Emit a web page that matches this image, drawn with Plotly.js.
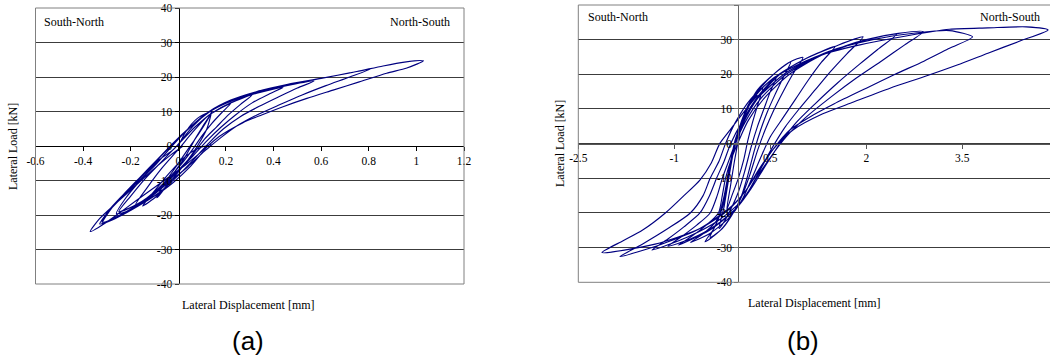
<!DOCTYPE html>
<html>
<head>
<meta charset="utf-8">
<script src="https://cdn.plot.ly/plotly-3.0.1.min.js"></script>
<style>
  html, body { margin: 0; padding: 0; background: #fff; }
  #chart { width: 1050px; height: 358px; }
</style>
</head>
<body>
<div id="chart"></div>
<script>
// ---------- Data ----------
// Panel (a): lateral displacement [mm] and lateral load [kN], in test order
const dispA = [
  0,
  0.03, 0.08, 0.14,
  0.11, 0.07, 0.03, -0.02, -0.06, -0.09,
  -0.06, -0.01, 0.04, 0.09, 0.13, 0.14,
  0.12, 0.08, 0.03, -0.03, -0.09, -0.15,
  -0.10, -0.04, 0.03, 0.09, 0.14,
  0.10, 0.05, -0.02, -0.10, -0.18,
  -0.13, -0.07, 0, 0.06, 0.12, 0.18, 0.22,
  0.18, 0.14, 0.10, 0.06, 0.01, -0.05, -0.12, -0.19, -0.25,
  -0.20, -0.14, -0.07, 0, 0.07, 0.14, 0.22, 0.31,
  0.26, 0.21, 0.16, 0.11, 0.06, 0, -0.07, -0.14, -0.20, -0.26,
  -0.22, -0.16, -0.09, -0.02, 0.05, 0.13, 0.22, 0.33, 0.44,
  0.38, 0.31, 0.24, 0.18, 0.12, 0.06, -0.01, -0.09, -0.17, -0.26, -0.32,
  -0.28, -0.22, -0.15, -0.08, -0.01, 0.06, 0.14, 0.24, 0.36, 0.47, 0.57,
  0.50, 0.42, 0.34, 0.26, 0.19, 0.13, 0.07, 0, -0.08, -0.17, -0.25, -0.32,
  -0.29, -0.23, -0.16, -0.09, -0.02, 0.05, 0.13, 0.22, 0.33, 0.46, 0.60, 0.72, 0.81,
  0.72, 0.62, 0.52, 0.42, 0.33, 0.25, 0.18, 0.11, 0.04, -0.04, -0.12, -0.21, -0.28, -0.33,
  -0.30, -0.22, -0.15, -0.08, -0.02, 0.06, 0.13, 0.22, 0.33, 0.46, 0.60, 0.75, 0.86, 0.95, 1.03,
  0.96, 0.875, 0.76, 0.65, 0.54, 0.44, 0.35, 0.27, 0.17, 0.10, 0.03, -0.05, -0.13, -0.22, -0.30, -0.37,
  -0.33, -0.26, -0.18, -0.10, -0.03, 0.02
];
const loadA = [
  0,
  4, 8, 10,
  6.5, 2, -3, -8, -12.5, -15,
  -11, -6, -1, 4, 8.5, 10,
  5, 0, -5, -10, -14.5, -17.4,
  -13, -8, -3, -0.5, 0.3,
  -2, -6, -10.5, -14.5, -17.1,
  -12, -6.5, -1, 4, 8.5, 11, 12.3,
  9.5, 6.5, 3, -1, -5.5, -10, -14.5, -17.5, -19,
  -14.5, -9.5, -4.5, 0.5, 5.5, 9.5, 12.5, 14.8,
  12, 9, 5.5, 2, -2.5, -7, -11.5, -15.5, -18.5, -19.6,
  -15, -10, -5, 0.5, 5.5, 10, 13, 15.3, 17,
  15, 12.5, 9, 5.5, 1.5, -3, -8, -13, -17, -20.5, -22.4,
  -18, -13.5, -8.5, -3.5, 1.5, 6, 10.3, 13.5, 16, 17.7, 18.8,
  16.8, 14.2, 11.5, 8.5, 5, 1, -3.5, -8.5, -13.5, -17.5, -20.5, -22,
  -18.5, -14, -9, -4, 1, 5.5, 10, 13.2, 15.8, 17.8, 19.6, 21.2, 22.4,
  20, 17.5, 14.8, 11.8, 9, 6, 2.5, -1.5, -6, -10.5, -15, -19, -21.5, -22.6,
  -19.5, -13.7, -9, -4, -1, 5.6, 10, 13.3, 15.8, 17.9, 19.6, 21.6, 23.2, 24.3, 24.7,
  22.6, 21.1, 18.6, 16.2, 13.8, 11.4, 9, 6.7, 2.7, -1.5, -5.5, -9.5, -13.5, -18, -22, -24.8,
  -21, -16.5, -11.5, -6.5, -2.5, 0
];

// Panel (b): lateral displacement [mm] and lateral load [kN], in test order
const dispB = [
  0,
  0.05, 0.15, 0.28, 0.38,
  0.30, 0.22, 0.15, 0.08, 0, -0.10, -0.18,
  -0.12, -0.05, 0.05, 0.20, 0.40, 0.60,
  0.50, 0.40, 0.30, 0.20, 0.10, 0, -0.12, -0.22, -0.30,
  -0.22, -0.14, -0.05, 0.08, 0.30, 0.55, 0.82,
  0.70, 0.57, 0.45, 0.35, 0.25, 0.15, 0.05, -0.08, -0.25, -0.44,
  -0.32, -0.22, -0.14, -0.05, 0.10, 0.30, 0.55, 0.80, 1.01,
  0.85, 0.70, 0.55, 0.42, 0.30, 0.18, 0.06, -0.08, -0.28, -0.52,
  -0.38, -0.26, -0.18, -0.11, -0.03, 0.10, 0.30, 0.60, 1.00, 1.25, 1.51,
  1.30, 1.10, 0.90, 0.70, 0.50, 0.35, 0.20, 0.05, -0.15, -0.45, -0.75,
  -0.55, -0.35, -0.24, -0.18, -0.12, -0.04, 0.08, 0.30, 0.65, 1.05, 1.50, 1.95,
  1.70, 1.45, 1.20, 0.95, 0.72, 0.52, 0.33, 0.15, -0.05, -0.45, -0.94,
  -0.75, -0.50, -0.31, -0.25, -0.20, -0.10, 0, 0.15, 0.40, 0.80, 1.30, 1.90, 2.47,
  2.20, 1.90, 1.55, 1.20, 0.90, 0.65, 0.42, 0.20, 0, -0.35, -0.75, -1.10,
  -0.90, -0.65, -0.44, -0.33, -0.25, -0.15, -0.05, 0.10, 0.35, 0.75, 1.30, 2.00, 2.50, 2.89,
  2.60, 2.25, 1.85, 1.45, 1.05, 0.75, 0.50, 0.28, 0.08, -0.30, -0.80, -1.35,
  -1.10, -0.85, -0.60, -0.45, -0.34, -0.22, -0.12, 0.05, 0.30, 0.75, 1.40, 2.10, 2.80, 3.30, 3.66,
  3.30, 2.90, 2.45, 2.00, 1.50, 1.10, 0.81, 0.55, 0.33, 0.12, -0.10, -0.60, -1.20, -1.85,
  -1.50, -1.10, -0.75, -0.55, -0.44, -0.30, -0.20, -0.05, 0.20, 0.60, 1.20, 1.90, 2.60, 3.30, 3.90, 4.50, 4.84,
  4.40, 3.90, 3.42, 2.90, 2.37, 1.80, 1.32, 0.86, 0.55, 0.32, 0.12, -0.15, -0.60, -1.30, -2.13,
  -1.80, -1.50, -1.14, -0.85, -0.60, -0.42, -0.29, -0.13, 0.03, 0.30
];
const loadB = [
  0,
  6, 11, 14.5, 16,
  11, 6, 1, -5, -10, -15, -19,
  -12, -4, 5, 12, 16.5, 19.5,
  15, 10, 5, -1, -8, -14, -19, -22.5, -24.5,
  -18, -9, 0, 8, 15.5, 20, 23.6,
  19, 14, 9, 4, -2, -9, -15, -20, -24.5, -27,
  -22, -15, -7, 1, 8.5, 15, 20, 23.5, 24.9,
  20, 15, 9.5, 4, -2, -9, -15, -20, -25, -28.3,
  -24.5, -19, -12, -5, 1, 7.5, 13.5, 19.5, 24, 26.2, 28,
  23.5, 18.5, 13, 7.5, 2, -4, -10.5, -16.5, -21.5, -26, -28.5,
  -26, -22.5, -18, -12, -6, 0, 6, 13, 20, 24.5, 28, 30.8,
  26, 21, 15.5, 10, 4.5, -1.5, -8, -14, -19, -25, -29.3,
  -27, -23.5, -20, -15, -10, -4, 0.5, 6.5, 13, 20, 25.5, 29.5, 31.5,
  27.5, 23, 17.5, 11.5, 6, 0, -6.5, -13, -18, -23.5, -27.5, -29.6,
  -27, -23.5, -20, -15, -10, -5, 0, 6, 13, 20, 25.5, 30, 31.8, 32.3,
  28.5, 24, 19, 13.5, 7.5, 2, -4, -10, -16, -22, -27, -30.7,
  -27.5, -24, -20, -15, -10, -5, 0, 6, 13, 20.5, 26.5, 30, 32, 32.6, 30.8,
  27.5, 23.8, 20, 16, 11.5, 7.5, 4, -1.5, -7.5, -13.5, -18, -24.5, -29, -32.6,
  -29, -24.5, -20, -15, -10, -5, 0, 6, 13, 19.5, 25, 28.5, 31, 33, 33.4, 33.7, 32.8,
  29.6, 26.1, 22.7, 19.3, 16, 12, 8.6, 4, -1.5, -7.5, -13.5, -19, -24.5, -29, -31.4,
  -28, -25, -20, -15, -10.5, -5.5, 0, 3.9, 7.8, 14
];

// Tick values / labels
const yTicks = [-40, -30, -20, -10, 0, 10, 20, 30, 40];
const xTicksA = [-0.6, -0.4, -0.2, 0, 0.2, 0.4, 0.6, 0.8, 1, 1.2];
const xTicksB = [-2.5, -1, 0.5, 2, 3.5];

// ---------- Geometry (pixels of the 1050x358 page) ----------
const W = 1050, H = 358;
const px = v => v / W;
const py = v => 1 - v / H;

const A = {l: 35.5, r: 464, t: 8, b: 284, x0: 178.5, y0: 146};
const B = {l: 578.3, r: 1050, t: 5, b: 282.3, x0: 738.3, y0: 143.6};

const serif = 'Liberation Serif, Times New Roman, serif';
const lineColor = '#000080';
const gridColor = '#3c3c3c';
const frameColor = '#808080';

const traces = [
  {x: dispA, y: loadA, xaxis: 'x', yaxis: 'y', type: 'scatter', mode: 'lines',
   line: {color: lineColor, width: 1.15, shape: 'spline', smoothing: 0.7},
   hoverinfo: 'skip', showlegend: false},
  {x: dispB, y: loadB, xaxis: 'x2', yaxis: 'y2', type: 'scatter', mode: 'lines',
   line: {color: lineColor, width: 1.15, shape: 'spline', smoothing: 0.7},
   hoverinfo: 'skip', showlegend: false}
];

const tickFont = {family: serif, size: 11.5, color: '#000'};

function xAxis(P, range, ticks, lineCol) {
  return {
    domain: [px(P.l), px(P.r)], range: range, anchor: 'free', position: py(P.y0),
    tickmode: 'array', tickvals: ticks, ticktext: ticks.map(String),
    showgrid: false, zeroline: false, showline: true, linecolor: lineCol, linewidth: 1,
    ticks: 'outside', ticklen: 4, tickcolor: lineCol, tickfont: tickFont, fixedrange: true
  };
}
function yAxis(P, lineCol) {
  return {
    domain: [py(P.b), py(P.t)], range: [-40, 40], anchor: 'free', position: px(P.x0),
    tickmode: 'array', tickvals: yTicks, ticktext: yTicks.map(String),
    showgrid: true, gridcolor: gridColor, gridwidth: 1, zeroline: false,
    showline: true, linecolor: lineCol, linewidth: 1,
    ticks: 'outside', ticklen: 4, tickcolor: lineCol, tickfont: tickFont, fixedrange: true
  };
}

const shapes = [
  // frame (a)
  {type: 'rect', xref: 'paper', yref: 'paper', x0: px(A.l), x1: px(A.r), y0: py(A.b), y1: py(A.t),
   line: {color: frameColor, width: 1}, layer: 'above'},
  // frame (b) — right side runs off the page
  {type: 'line', xref: 'paper', yref: 'paper', x0: px(B.l), x1: 1, y0: py(B.t), y1: py(B.t),
   line: {color: frameColor, width: 1}, layer: 'above'},
  {type: 'line', xref: 'paper', yref: 'paper', x0: px(B.l), x1: 1, y0: py(B.b), y1: py(B.b),
   line: {color: frameColor, width: 1}, layer: 'above'},
  {type: 'line', xref: 'paper', yref: 'paper', x0: px(B.l), x1: px(B.l), y0: py(B.b), y1: py(B.t),
   line: {color: frameColor, width: 1}, layer: 'above'}
];

const textFont = {family: serif, size: 12, color: '#000'};
const titleFont = {family: serif, size: 12, color: '#000'};
const labelFont = {family: 'Liberation Sans, Arial, sans-serif', size: 26, color: '#000'};

const annotations = [
  {text: 'South-North', xref: 'paper', yref: 'paper', x: px(42), y: py(22), xanchor: 'left', yanchor: 'middle', showarrow: false, font: textFont},
  {text: 'North-South', xref: 'paper', yref: 'paper', x: px(452), y: py(22), xanchor: 'right', yanchor: 'middle', showarrow: false, font: textFont},
  {text: 'South-North', xref: 'paper', yref: 'paper', x: px(585.5), y: py(17.5), xanchor: 'left', yanchor: 'middle', showarrow: false, font: textFont},
  {text: 'North-South', xref: 'paper', yref: 'paper', x: px(1042), y: py(17.5), xanchor: 'right', yanchor: 'middle', showarrow: false, font: textFont},
  {text: 'Lateral Load [kN]', xref: 'paper', yref: 'paper', x: px(13), y: py(147), textangle: -90, xanchor: 'center', yanchor: 'middle', showarrow: false, font: titleFont},
  {text: 'Lateral Load [kN]', xref: 'paper', yref: 'paper', x: px(560), y: py(144), textangle: -90, xanchor: 'center', yanchor: 'middle', showarrow: false, font: titleFont},
  {text: 'Lateral Displacement [mm]', xref: 'paper', yref: 'paper', x: px(248), y: py(305), xanchor: 'center', yanchor: 'middle', showarrow: false, font: titleFont},
  {text: 'Lateral Displacement [mm]', xref: 'paper', yref: 'paper', x: px(814), y: py(303), xanchor: 'center', yanchor: 'middle', showarrow: false, font: titleFont},
  {text: '(a)', xref: 'paper', yref: 'paper', x: px(248), y: py(341), xanchor: 'center', yanchor: 'middle', showarrow: false, font: labelFont},
  {text: '(b)', xref: 'paper', yref: 'paper', x: px(803), y: py(341), xanchor: 'center', yanchor: 'middle', showarrow: false, font: labelFont}
];

const layout = {
  width: W, height: H,
  margin: {l: 0, r: 0, t: 0, b: 0, pad: 0},
  paper_bgcolor: '#fff', plot_bgcolor: '#fff',
  showlegend: false,
  xaxis: xAxis(A, [-0.6, 1.2], xTicksA, '#000'),
  yaxis: yAxis(A, '#000'),
  xaxis2: xAxis(B, [-2.5, -2.5 + (B.r - B.l) / 64], xTicksB, '#555'),
  yaxis2: yAxis(B, '#666'),
  shapes: shapes,
  annotations: annotations
};

Plotly.newPlot('chart', traces, layout, {displayModeBar: false, staticPlot: true});
</script>
</body>
</html>
